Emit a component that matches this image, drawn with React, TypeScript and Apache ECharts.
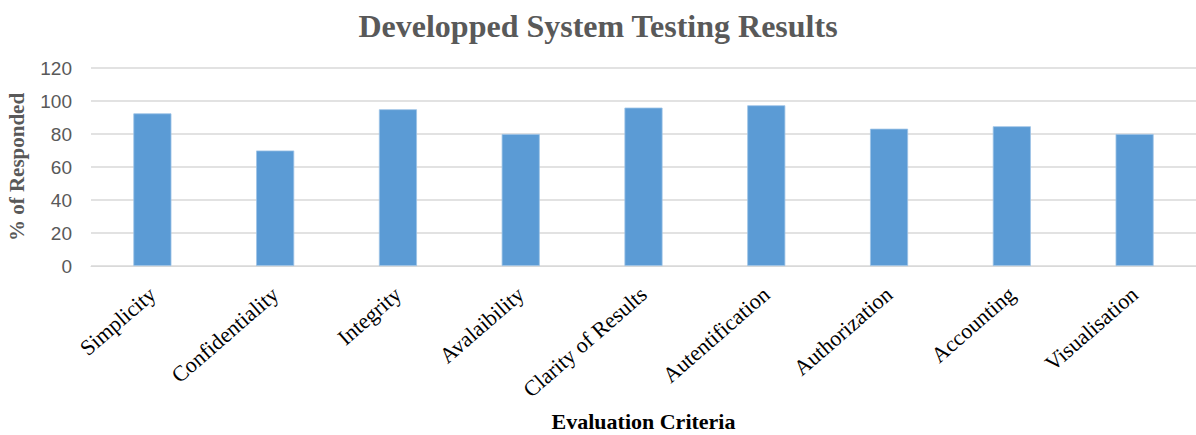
import React, { useEffect, useRef } from "react";
import * as echarts from "echarts";

const categories = [
  "Simplicity",
  "Confidentiality",
  "Integrity",
  "Avalaibility",
  "Clarity of Results",
  "Autentification",
  "Authorization",
  "Accounting",
  "Visualisation",
];
const responded = [92.5, 70, 95, 80, 96, 97.4, 83.2, 84.7, 80];
const yTicks = { min: 0, max: 120, interval: 20 };

export default function App() {
  const ref = useRef<HTMLDivElement>(null);
  useEffect(() => {
    if (!ref.current) return;
    const chart = echarts.init(ref.current, null, { renderer: "svg" });
    chart.setOption({
      animation: false,
      backgroundColor: "#ffffff",
      title: {
        text: "Developped System Testing Results",
        left: "center",
        top: 5,
        textStyle: {
          fontFamily: "Liberation Serif",
          fontWeight: "bold",
          fontSize: 32,
          color: "#595959",
        },
      },
      grid: {
        left: 91,
        right: 0,
        top: 68,
        bottom: 169,
        containLabel: false,
        outerBoundsMode: "none",
      },
      xAxis: {
        type: "category",
        data: categories,
        name: "Evaluation Criteria",
        nameLocation: "middle",
        nameGap: 144,
        nameTextStyle: {
          fontFamily: "Liberation Serif",
          fontWeight: "bold",
          fontSize: 22,
          lineHeight: 22,
          color: "#000000",
        },
        axisLine: { show: true, lineStyle: { color: "#D9D9D9", width: 1 } },
        axisTick: { show: false },
        axisLabel: {
          rotate: 41,
          interval: 0,
          margin: 25,
          fontFamily: "Liberation Serif",
          fontSize: 22,
          color: "#000000",
        },
      },
      yAxis: {
        type: "value",
        min: yTicks.min,
        max: yTicks.max,
        interval: yTicks.interval,
        name: "% of Responded",
        nameLocation: "middle",
        nameGap: 64,
        nameTextStyle: {
          fontFamily: "Liberation Serif",
          fontWeight: "bold",
          fontSize: 21,
          color: "#595959",
        },
        axisLine: { show: false },
        axisTick: { show: false },
        axisLabel: {
          margin: 19,
          fontFamily: "Liberation Sans",
          fontSize: 19,
          color: "#595959",
        },
        splitLine: { lineStyle: { color: "#D9D9D9", width: 1.5 } },
      },
      series: [
        {
          type: "bar",
          data: responded,
          barWidth: "31%",
          itemStyle: { color: "#5B9BD5", borderColor: "#9DC3E6", borderWidth: 0.8 },
        },
      ],
    });
    return () => chart.dispose();
  }, []);
  return (
    <div
      ref={ref}
      style={{ position: "fixed", left: 0, top: 0, width: 1196, height: 435 }}
    />
  );
}
